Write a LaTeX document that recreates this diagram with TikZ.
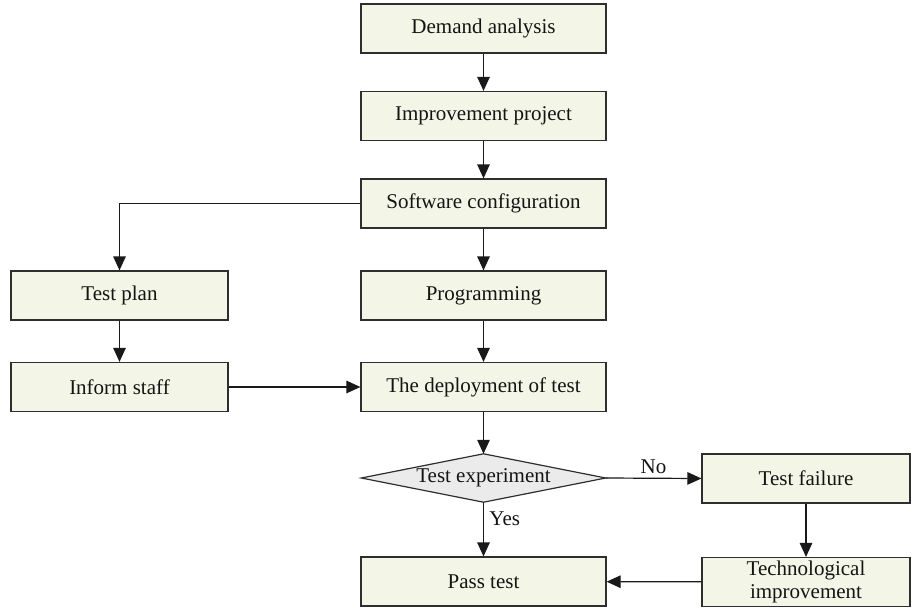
\documentclass[tikz,border=0pt]{standalone}
\usepackage{fontspec}
\setmainfont{Liberation Serif}
\usetikzlibrary{arrows.meta}
\definecolor{boxfill}{HTML}{F3F6E6}
\definecolor{dfill}{HTML}{EBEBEB}
\definecolor{edge}{HTML}{2E2E2E}
\begin{document}
\begin{tikzpicture}[x=1pt,y=-1pt,
  every node/.style={font=\fontsize{21}{22.5}\selectfont, text=black!92},
  stepbox/.style={draw=edge, line width=1.2pt, fill=boxfill, inner sep=0pt, align=center},
  cbox/.style={stepbox, minimum width=245pt, minimum height=49pt},
  lbox/.style={stepbox, minimum width=217pt, minimum height=49pt},
  rbox/.style={stepbox, minimum width=208pt, minimum height=49pt},
  conn/.style={draw=black!90, line width=1.2pt, -{Triangle[length=14pt,width=12.5pt]}},
  lbl/.style={font=\fontsize{21}{22.5}\selectfont}
]
\useasboundingbox (0,0) rectangle (912,610);

\node[cbox] (dem) at (483.5,28.5) {Demand analysis};
\node[cbox] (imp) at (483.5,116) {Improvement project};
\node[cbox] (soft) at (483.5,203.5) {Software configuration};
\node[cbox] (prog) at (483.5,295.5) {Programming};
\node[cbox] (dep) at (483.5,387) {The deployment of test};
\node[minimum width=244pt, minimum height=48pt, inner sep=0pt] (exp) at (483.5,478) {};
\fill[dfill, draw=edge, line width=1.2pt] (exp.west) -- (exp.north) -- (exp.east) -- (exp.south) -- cycle;
\node at (exp.center) {Test experiment};
\node[cbox] (pass) at (483.5,581.5) {Pass test};

\node[lbox] (plan) at (119.5,295.5) {Test plan};
\node[lbox] (inf) at (119.5,387) {Inform staff};

\node[rbox] (fail) at (806,478.5) {Test failure};
\node[rbox] (tech) at (806,582) {Technological\\improvement};

\draw[conn] (dem) -- (imp);
\draw[conn] (imp) -- (soft);
\draw[conn] (soft) -- (prog);
\draw[conn] (prog) -- (dep);
\draw[conn] (dep) -- (exp.north);
\draw[conn] (soft.west) -| (plan.north);
\draw[conn] (plan) -- (inf);
\draw[conn] (inf) -- (dep);
\draw[conn] (exp.east) -- node[lbl, above=1pt] {No} (fail.west);
\draw[conn] (exp.south) -- node[lbl, pos=0.3, right=2pt] {Yes} (pass.north);
\draw[conn] (fail) -- (tech);
\draw[conn] (tech) -- (pass);
\end{tikzpicture}
\end{document}
